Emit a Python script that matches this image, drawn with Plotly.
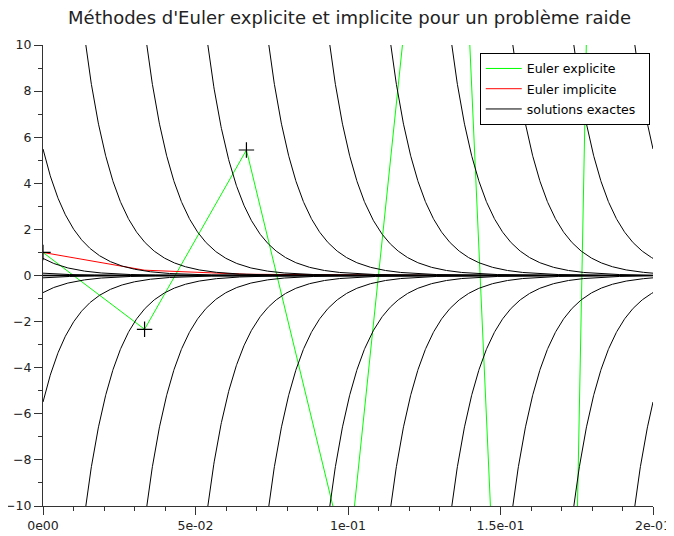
import numpy as np
import plotly.graph_objects as go

# ---- data ----
t_steps = [0.0, 0.0333, 0.0667, 0.1, 0.1333, 0.1667, 0.2]
euler_explicit = [1.0, -2.333, 5.444, -12.70, 29.64, -69.16, 161.38]
euler_implicit = [1.0, 0.2308, 0.0533, 0.0123, 0.0028, 0.00066, 0.00015]

# exact solutions y = +/- 10 * exp(-rate * (t - t_cross)); t_cross = time where curve hits +/-10
decay_rate = 100.0
cross_times = [-0.106, -0.086, -0.066, -0.046, -0.026, -0.006, 0.014, 0.034,
               0.054, 0.074, 0.094, 0.114, 0.134, 0.154, 0.174, 0.194]
signs = [1, -1]

x_tickvals = [0, 0.05, 0.1, 0.15, 0.2]
x_ticktext = ["0e00", "5e-02", "1e-01", "1.5e-01", "2e-01"]
y_tickvals = [-10, -8, -6, -4, -2, 0, 2, 4, 6, 8, 10]

title = "Méthodes d'Euler explicite et implicite pour un problème raide"
legend_names = ["Euler explicite", "Euler implicite", "solutions exactes\u00a0\u00a0"]

# ---- build exact solution curves ----
tt = np.linspace(0, 0.2, 1601)
ex_x, ex_y = [], []
for s in signs:
    for tc in cross_times:
        y = s * 10.0 * np.exp(-decay_rate * (tt - tc))
        y = np.where(np.abs(y) > 40, np.nan, y)
        ex_x.extend(tt.tolist() + [None])
        ex_y.extend([None if np.isnan(v) else float(v) for v in y] + [None])

FONT = "DejaVu Sans"
fig = go.Figure()
fig.add_trace(go.Scatter(x=t_steps, y=euler_explicit, mode="lines", legendgroup="a",
                         line=dict(color="#00ff00", width=1), name=legend_names[0]))
fig.add_trace(go.Scatter(x=t_steps, y=euler_implicit, mode="lines", legendgroup="b",
                         line=dict(color="#ff0000", width=1), name=legend_names[1]))
fig.add_trace(go.Scatter(x=ex_x, y=ex_y, mode="lines", connectgaps=False, legendgroup="c",
                         line=dict(color="#000000", width=1), name=legend_names[2]))
fig.add_trace(go.Scatter(x=t_steps, y=euler_explicit, mode="markers", showlegend=False,
                         marker=dict(symbol="cross-thin", size=11,
                                     line=dict(color="#000000", width=1.2))))

axis_common = dict(showline=True, linecolor="#333333", linewidth=1, ticks="outside",
                   ticklen=8, tickwidth=1, tickcolor="#333333", showgrid=False,
                   zeroline=False, mirror=False, automargin=False,
                   tickfont=dict(family=FONT, size=12.5, color="#222222"))
fig.update_xaxes(range=[0, 0.2], tickvals=x_tickvals, ticktext=x_ticktext,
                 minor=dict(dtick=0.01, ticklen=4, tickcolor="#333333", ticks="outside", showgrid=False),
                 **axis_common)
fig.update_yaxes(range=[-10, 10], tickvals=y_tickvals,
                 minor=dict(dtick=1, ticklen=4, tickcolor="#333333", ticks="outside", showgrid=False),
                 **axis_common)

# the page body adds an 8 px offset, so the figure is sized to fit the window
fig.update_layout(
    width=666, height=528,
    margin=dict(l=35.3, r=20.7, t=36.7, b=30),
    paper_bgcolor="white", plot_bgcolor="white",
    title=dict(text=title, x=0.5128, xanchor="center", y=0.981, yanchor="middle",
               font=dict(family=FONT, size=18, color="#222222")),
    legend=dict(x=0.716, y=0.983, xanchor="left", yanchor="top",
                bgcolor="white", bordercolor="#000000", borderwidth=1,
                traceorder="grouped", tracegroupgap=1, itemwidth=36,
                font=dict(family=FONT, size=12.5, color="#000000")),
    showlegend=True,
)
fig.write_html("out.html")
